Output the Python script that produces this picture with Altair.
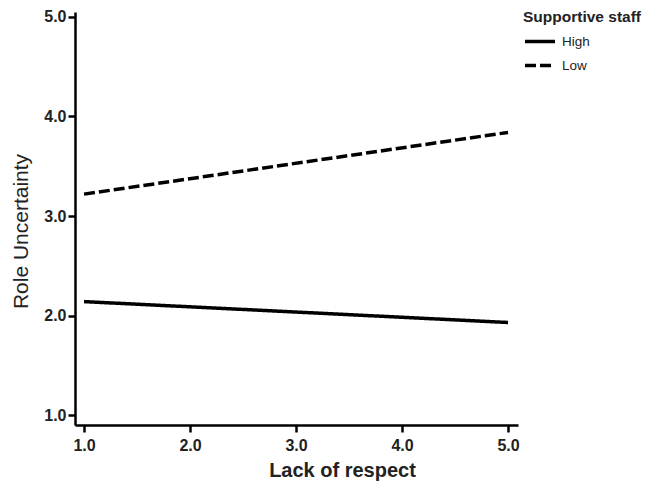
import altair as alt
import pandas as pd

x_vals = [1.0, 5.0]
high_vals = [2.14, 1.93]
low_vals = [3.22, 3.84]
groups = ["High", "Low"]

rows = []
for g, vals in zip(groups, [high_vals, low_vals]):
    for xv, yv in zip(x_vals, vals):
        rows.append({"x": xv, "y": yv, "group": g})
df = pd.DataFrame(rows)

FONT = "Liberation Sans"

chart = alt.Chart(df).mark_line(strokeWidth=3.5, color="black").encode(
    x=alt.X("x:Q", title="Lack of respect",
            scale=alt.Scale(domain=[0.915, 5.094], nice=False, zero=False),
            axis=alt.Axis(values=[1, 2, 3, 4, 5], format=".1f", grid=False,
                          domainColor="black", domainWidth=2.5, tickColor="black",
                          tickWidth=2.5, tickSize=7, labelFont=FONT, labelFontSize=16,
                          labelFontWeight="bold", labelColor="#222", labelPadding=5,
                          titleFont=FONT, titleFontSize=20, titleFontWeight="bold",
                          titleColor="#222", titlePadding=7, titleX=267,
                          labelFlush=False)),
    y=alt.Y("y:Q", title="Role Uncertainty",
            scale=alt.Scale(domain=[0.9, 5.05], nice=False, zero=False),
            axis=alt.Axis(values=[1, 2, 3, 4, 5], format=".1f", grid=False,
                          domainColor="black", domainWidth=2.5, tickColor="black",
                          tickWidth=2.5, tickSize=7, labelFont=FONT, labelFontSize=16,
                          labelFontWeight="bold", labelColor="#222", labelPadding=2,
                          titleFont=FONT, titleFontSize=21, titleFontWeight="normal",
                          titleColor="#222", titlePadding=12, titleY=219,
                          labelFlush=False)),
    strokeDash=alt.StrokeDash("group:N", title="Supportive staff",
                              scale=alt.Scale(domain=groups, range=[[1, 0], [11, 4]]),
                              legend=alt.Legend(orient="none", legendX=448, legendY=-2,
                                                titleFont=FONT, titleFontSize=15.5,
                                                titleFontWeight="bold", titleColor="#222",
                                                labelFont=FONT, labelFontSize=13.5,
                                                labelColor="#222", symbolType="stroke",
                                                symbolStrokeWidth=3.5, symbolSize=900,
                                                symbolStrokeColor="black",
                                                labelOffset=5,
                                                rowPadding=-14, titlePadding=-1)),
).properties(
    width=443, height=413,
    autosize=alt.AutoSizeParams(type="none"),
    padding={"left": 67, "top": 4, "right": 128, "bottom": 58},
    background="white",
).configure_view(stroke=None)

chart.save("out.html", embed_options={"renderer": "svg", "actions": False})
